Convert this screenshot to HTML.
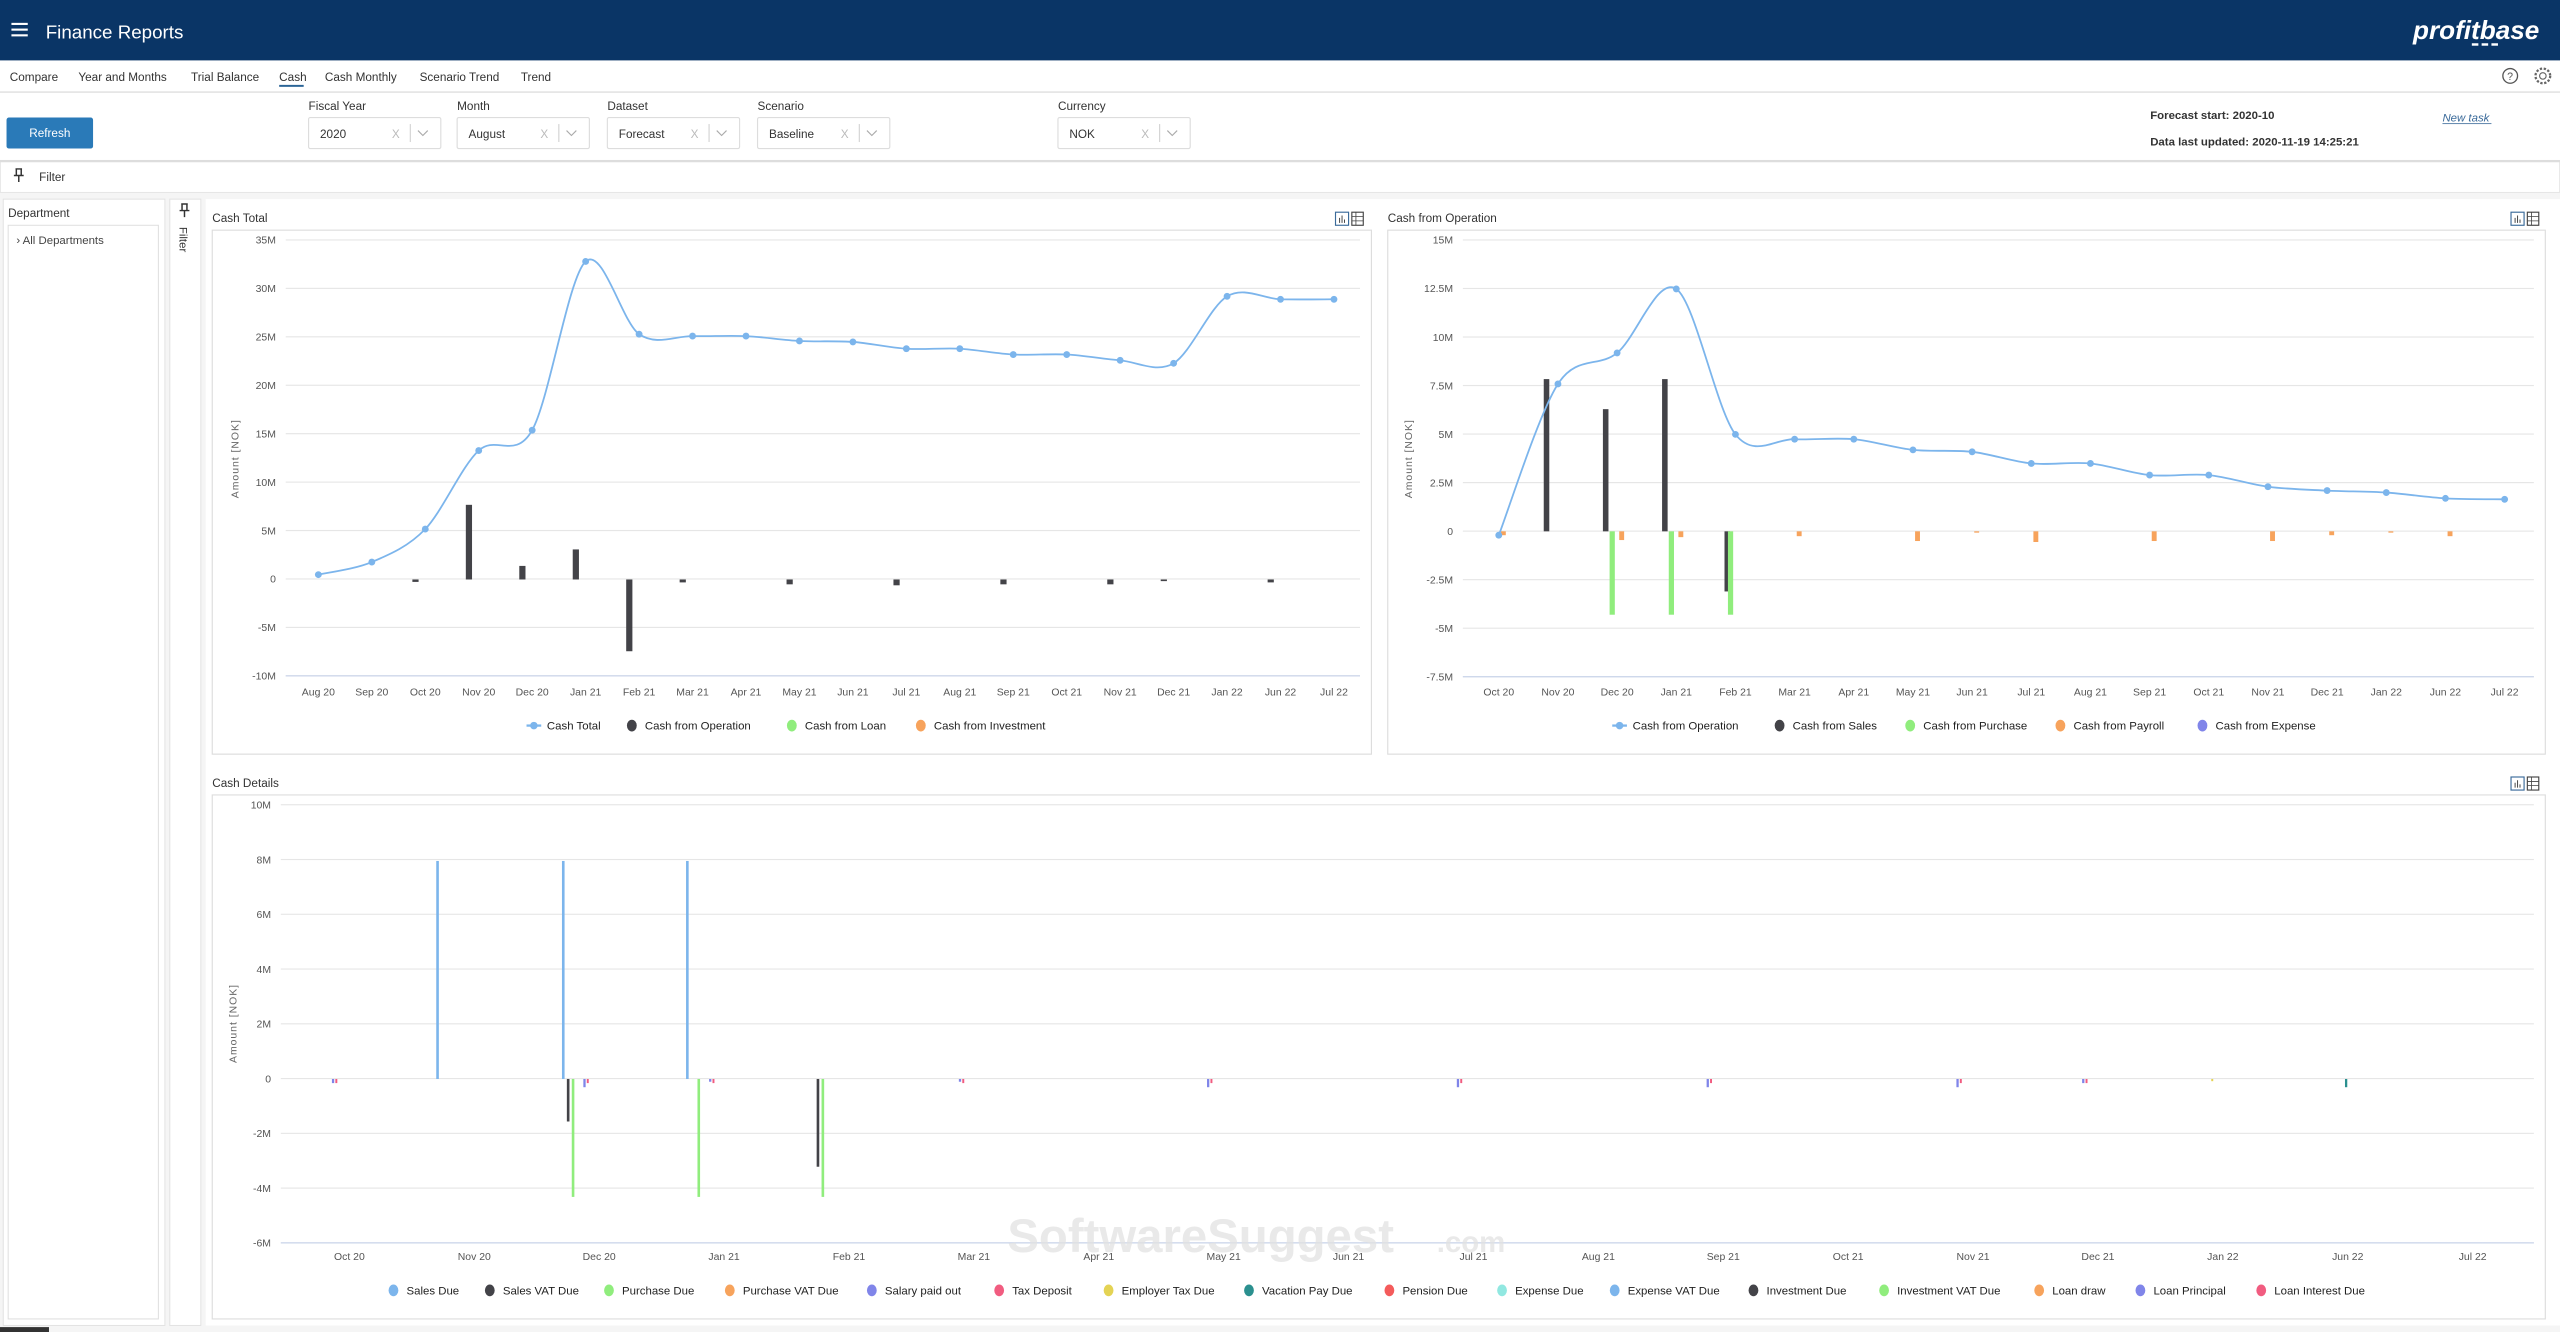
<!DOCTYPE html>
<html><head><meta charset="utf-8">
<style>
html,body{margin:0;padding:0;background:#fff;overflow:hidden}
svg{display:block;font-family:"Liberation Sans",sans-serif}
</style></head>
<body>
<svg id="s" width="2560" height="1332" viewBox="0 0 1568 816" preserveAspectRatio="none" xmlns="http://www.w3.org/2000/svg">
<rect x="0" y="0" width="1568" height="816" fill="#fff"/>
<rect x="0" y="0" width="1568" height="37" fill="#0a3566"/>
<g fill="#fff"><rect x="7" y="14" width="10" height="1.3"/><rect x="7" y="17.5" width="10" height="1.3"/><rect x="7" y="21" width="10" height="1.3"/></g>
<text x="28" y="23.5" font-size="11.5" fill="#fff">Finance Reports</text>
<text x="1478" y="24" font-size="16" font-weight="bold" font-style="italic" fill="#fff">profitbase</text>
<g fill="#fff"><rect x="1514" y="26.5" width="4" height="1.5"/><rect x="1520" y="26.5" width="4" height="1.5"/><rect x="1526" y="26.5" width="4" height="1.5"/></g>
<g font-size="7.2" fill="#333">
<text x="6" y="49.5">Compare</text><text x="48" y="49.5">Year and Months</text><text x="117" y="49.5">Trial Balance</text><text x="171" y="49.5">Cash</text><text x="199" y="49.5">Cash Monthly</text><text x="257" y="49.5">Scenario Trend</text><text x="319" y="49.5">Trend</text>
</g>
<rect x="171" y="52" width="15" height="1.2" fill="#2a6496"/>
<circle cx="1537.5" cy="46.5" r="4.5" fill="none" stroke="#555" stroke-width="0.8"/><text x="1535.6" y="49" font-size="6.5" fill="#555">?</text>
<circle cx="1557.5" cy="46.5" r="4.5" fill="none" stroke="#666" stroke-width="1.4" stroke-dasharray="1.4 1"/><circle cx="1557.5" cy="46.5" r="2" fill="none" stroke="#666" stroke-width="0.7"/>
<rect x="0" y="56" width="1568" height="0.8" fill="#ddd"/>
<rect x="4" y="72" width="53" height="19" rx="1.5" fill="#2a7ab8"/>
<text x="30.5" y="84" font-size="7.2" fill="#fff" text-anchor="middle">Refresh</text>
<g id="dd" font-size="7.2" fill="#333"></g>
<g font-size="7" fill="#333" font-weight="bold">
<text x="1317" y="73">Forecast start: 2020-10</text>
<text x="1317" y="89">Data last updated: 2020-11-19 14:25:21</text>
</g>
<text x="1496" y="74.5" font-size="7" font-style="italic" fill="#3a6a9a">New task</text>
<rect x="1496" y="75.5" width="30" height="0.5" fill="#3a6a9a"/>
<rect x="0" y="98" width="1568" height="0.8" fill="#ddd"/>
<rect x="0" y="99" width="1568" height="19" fill="#fff" stroke="#ddd" stroke-width="0.8"/>
<g stroke="#333" stroke-width="0.9" fill="none"><path d="M9.5 103.5h4M10 103.5v4h3v-4M8.5 107.5h6M11.5 107.5v4"/></g>
<text x="24" y="111" font-size="7.2" fill="#333">Filter</text>
<rect x="0" y="118" width="1568" height="698" fill="#f5f5f5"/>
<rect x="2" y="122" width="99" height="690" fill="#fff" stroke="#e2e2e2" stroke-width="0.6"/>
<text x="5" y="133" font-size="7.2" fill="#333">Department</text>
<rect x="5" y="138" width="92" height="670" fill="#fff" stroke="#ddd" stroke-width="0.6"/>
<text x="10" y="149.5" font-size="7" fill="#444">›  All Departments</text>
<rect x="104" y="122" width="19" height="690" fill="#fff" stroke="#e2e2e2" stroke-width="0.6"/>
<g stroke="#333" stroke-width="0.9" fill="none"><path d="M111 125h4M111.5 125v4h3v-4M110 129h6M113 129v4"/></g>
<text transform="translate(110,139) rotate(90)" font-size="7" fill="#333">Filter</text>
<rect x="126" y="122" width="1442" height="690" fill="#fff"/>
<rect x="130" y="141" width="710" height="321" fill="#fff" stroke="#ddd" stroke-width="0.7"/>
<rect x="850" y="141" width="709" height="321" fill="#fff" stroke="#ddd" stroke-width="0.7"/>
<rect x="130" y="487" width="1429" height="321" fill="#fff" stroke="#ddd" stroke-width="0.7"/>
<g font-size="7.2" fill="#333">
<text x="130" y="136">Cash Total</text><text x="850" y="136">Cash from Operation</text><text x="130" y="482">Cash Details</text>
</g>
<g id="icons"></g>
<g id="c1"></g><g id="c2"></g><g id="c3"></g>
<text x="617" y="767" font-size="29" font-weight="bold" fill="#e2e2e2" opacity="0.75">SoftwareSuggest</text>
<text x="880" y="767" font-size="18" font-weight="bold" fill="#e2e2e2" opacity="0.75">.com</text>
<rect x="0" y="813" width="30" height="3" fill="#333"/>
</svg>
<script>
const NS="http://www.w3.org/2000/svg";
function el(p,t,a,txt){const e=document.createElementNS(NS,t);for(const k in a)e.setAttribute(k,a[k]);if(txt!==undefined)e.textContent=txt;p.appendChild(e);return e;}
const dd=document.getElementById('dd');
[["Fiscal Year","2020",189],["Month","August",280],["Dataset","Forecast",372],["Scenario","Baseline",464],["Currency","NOK",648]].forEach(([l,v,x])=>{
 el(dd,'text',{x:x,y:67.5},l);
 el(dd,'rect',{x:x,y:72,width:81,height:19,fill:'#fff',stroke:'#ddd','stroke-width':0.7,rx:1});
 el(dd,'text',{x:x+7,y:84.5},v);
 el(dd,'text',{x:x+51,y:84.5,fill:'#bbb'},'X');
 el(dd,'rect',{x:x+62,y:76,width:0.6,height:11,fill:'#ccc'});
 el(dd,'path',{d:`M${x+67} 80 l3 3 l3 -3`,stroke:'#aaa','stroke-width':0.7,fill:'none'});
});
const ic=document.getElementById('icons');
[[818,130],[1538,130],[1538,476]].forEach(([x,y])=>{
 el(ic,'rect',{x:x,y:y,width:8,height:8,fill:'#fff',stroke:'#3a6a9a','stroke-width':0.7});
 el(ic,'path',{d:`M${x+2.5} ${y+6.5}v-3M${x+4} ${y+6.5}v-4.5M${x+5.5} ${y+6.5}v-2`,stroke:'#444','stroke-width':0.6});
 el(ic,'rect',{x:x+10,y:y,width:7,height:8,fill:'none',stroke:'#444','stroke-width':0.7});
 el(ic,'path',{d:`M${x+10} ${y+2.7}h7M${x+10} ${y+5.3}h7M${x+12.5} ${y}v8`,stroke:'#444','stroke-width':0.5});
});
function smooth(pts){let d=`M${pts[0][0]} ${pts[0][1]}`;for(let i=0;i<pts.length-1;i++){const p0=pts[i-1]||pts[i],p1=pts[i],p2=pts[i+1],p3=pts[i+2]||p2;const t=0.16;d+=` C${p1[0]+(p2[0]-p0[0])*t} ${p1[1]+(p2[1]-p0[1])*t} ${p2[0]-(p3[0]-p1[0])*t} ${p2[1]-(p3[1]-p1[1])*t} ${p2[0]} ${p2[1]}`;}return d;}
function axes(g,o){
 o.ticks.forEach((t,i)=>{const y=o.y0+i*o.dy;el(g,'rect',{x:o.gx0,y:y-0.35,width:o.gx1-o.gx0,height:0.7,fill:'#e6e6e6'});
  el(g,'text',{x:o.lx,y:y+2.3,'font-size':6.4,fill:'#555','text-anchor':'end'},t);});
 el(g,'rect',{x:o.gx0,y:o.y0+(o.ticks.length-1)*o.dy-0.4,width:o.gx1-o.gx0,height:0.8,fill:'#ccd6eb'});
 o.labels.forEach((l,i)=>el(g,'text',{x:o.x0+i*o.dx,y:o.xly,'font-size':6.4,fill:'#555','text-anchor':'middle'},l));
 el(g,'text',{transform:`translate(${o.atx},${o.aty}) rotate(-90)`,'font-size':6.4,fill:'#666','text-anchor':'middle','letter-spacing':0.6},'Amount [NOK]');
}
function legend(g,items,y){items.forEach(([x,c,t,line])=>{
 if(line){el(g,'rect',{x:x-4.5,y:y-0.7,width:9,height:1.4,fill:c});el(g,'circle',{cx:x,cy:y,r:2.3,fill:c});}
 else el(g,'ellipse',{cx:x,cy:y,rx:3,ry:3.6,fill:c});
 el(g,'text',{x:x+8,y:y+2.5,'font-size':7,fill:'#222'},t);});}
const BL='#7cb5ec',DK='#434348',GR='#90ed7d',OR='#f7a35c',PU='#8085e9',RD='#f15c80',TL='#2b908f',YL='#e4d354';
(function(){const g=document.getElementById('c1');
 const L=["Aug 20","Sep 20","Oct 20","Nov 20","Dec 20","Jan 21","Feb 21","Mar 21","Apr 21","May 21","Jun 21","Jul 21","Aug 21","Sep 21","Oct 21","Nov 21","Dec 21","Jan 22","Jun 22","Jul 22"];
 const x0=195,dx=32.74,zero=355,k=29.7/5;
 axes(g,{ticks:["35M","30M","25M","20M","15M","10M","5M","0","-5M","-10M"],y0:147,dy:29.67,gx0:175,gx1:833,lx:169,labels:L,x0:x0,dx:dx,xly:426,atx:146,aty:281});
 const bars={2:-0.25,3:7.7,4:1.4,5:3.1,6:-7.4,7:-0.3,9:-0.5,11:-0.6,13:-0.5,15:-0.5,16:-0.15,18:-0.3};
 for(const i in bars){const v=bars[i],x=x0+i*dx-6;const y=zero-Math.max(v,0)*k;el(g,'rect',{x:x-1.9,y:y,width:3.8,height:Math.max(Math.abs(v)*k,1),fill:DK});}
 const V=[0.5,1.8,5.2,13.3,15.4,32.8,25.3,25.1,25.1,24.6,24.5,23.8,23.8,23.2,23.2,22.6,22.3,29.2,28.9,28.9];
 const P=V.map((v,i)=>[x0+i*dx,zero-v*k]);
 el(g,'path',{d:smooth(P),fill:'none',stroke:BL,'stroke-width':1.1});
 P.forEach(p=>el(g,'circle',{cx:p[0],cy:p[1],r:2.1,fill:BL}));
 legend(g,[[327,BL,"Cash Total",1],[387,DK,"Cash from Operation"],[485,GR,"Cash from Loan"],[564,OR,"Cash from Investment"]],444.5);
})();
(function(){const g=document.getElementById('c2');
 const L=["Oct 20","Nov 20","Dec 20","Jan 21","Feb 21","Mar 21","Apr 21","May 21","Jun 21","Jul 21","Aug 21","Sep 21","Oct 21","Nov 21","Dec 21","Jan 22","Jun 22","Jul 22"];
 const x0=918,dx=36.24,zero=325.5,k=29.7/2.5;
 axes(g,{ticks:["15M","12.5M","10M","7.5M","5M","2.5M","0","-2.5M","-5M","-7.5M"],y0:147,dy:29.73,gx0:896,gx1:1552,lx:890,labels:L,x0:x0,dx:dx,xly:426,atx:865,aty:281});
 function bar(i,v,off,c,w){const x=x0+i*dx+off;const y=zero-Math.max(v,0)*k;el(g,'rect',{x:x-w/2,y:y,width:w,height:Math.max(Math.abs(v)*k,0.8),fill:c});}
 [[1,7.85],[2,6.3],[3,7.85],[4,-3.1]].forEach(([i,v])=>bar(i,v,i==4?-5:-7,DK,3.4));
 [[2,-4.3],[3,-4.3],[4,-4.3]].forEach(([i,v])=>bar(i,v,-3,GR,3.2));
 [[0,-0.2],[2,-0.45],[3,-0.3],[5,-0.25],[7,-0.5],[8,-0.05],[9,-0.55],[11,-0.5],[13,-0.5],[14,-0.2],[15,-0.05],[16,-0.25]].forEach(([i,v])=>bar(i,v,2.8,OR,3));
 const V=[-0.2,7.6,9.2,12.5,5.0,4.75,4.75,4.2,4.1,3.5,3.5,2.9,2.9,2.3,2.1,2.0,1.7,1.65];
 const P=V.map((v,i)=>[x0+i*dx,zero-v*k]);
 el(g,'path',{d:smooth(P),fill:'none',stroke:BL,'stroke-width':1.1});
 P.forEach(p=>el(g,'circle',{cx:p[0],cy:p[1],r:2.1,fill:BL}));
 legend(g,[[992,BL,"Cash from Operation",1],[1090,DK,"Cash from Sales"],[1170,GR,"Cash from Purchase"],[1262,OR,"Cash from Payroll"],[1349,PU,"Cash from Expense"]],444.5);
})();
(function(){const g=document.getElementById('c3');
 const L=["Oct 20","Nov 20","Dec 20","Jan 21","Feb 21","Mar 21","Apr 21","May 21","Jun 21","Jul 21","Aug 21","Sep 21","Oct 21","Nov 21","Dec 21","Jan 22","Jun 22","Jul 22"];
 const x0=214,dx=76.5,zero=661,k=33.6/2;
 axes(g,{ticks:["10M","8M","6M","4M","2M","0","-2M","-4M","-6M"],y0:493,dy:33.55,gx0:172,gx1:1552,lx:166,labels:L,x0:x0,dx:dx,xly:772,atx:145,aty:627});
 function bar(x,v,c,w){const y=zero-Math.max(v,0)*k;el(g,'rect',{x:x-w/2,y:y,width:w,height:Math.max(Math.abs(v)*k,0.8),fill:c});}
 [268,345,421].forEach(x=>bar(x,7.95,BL,1.6));
 bar(348,-1.55,DK,1.6);bar(501,-3.2,DK,1.6);
 [351,428,504].forEach(x=>bar(x,-4.3,GR,1.6));
 [204,358,435,588,740,893,1046,1199,1276].forEach((x,j)=>{bar(x,[-0.15,-0.3,-0.1,-0.1,-0.3,-0.3,-0.3,-0.3,-0.15][j],PU,1.4);bar(x+2,-0.15,RD,1.2);});
 bar(1437,-0.3,TL,1.4);bar(1355,-0.08,YL,1.2);
 legend(g,[[241,BL,"Sales Due"],[300,DK,"Sales VAT Due"],[373,GR,"Purchase Due"],[447,OR,"Purchase VAT Due"],[534,PU,"Salary paid out"],[612,RD,"Tax Deposit"],[679,YL,"Employer Tax Due"],[765,TL,"Vacation Pay Due"],[851,'#f45b5b',"Pension Due"],[920,'#91e8e1',"Expense Due"],[989,BL,"Expense VAT Due"],[1074,DK,"Investment Due"],[1154,GR,"Investment VAT Due"],[1249,OR,"Loan draw"],[1311,PU,"Loan Principal"],[1385,RD,"Loan Interest Due"]],790.5);
})();
</script>
</body></html>
